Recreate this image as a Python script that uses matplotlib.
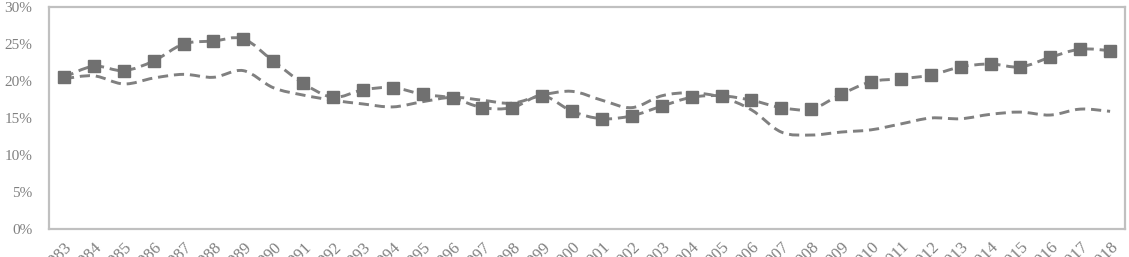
import matplotlib
matplotlib.use("Agg")
import matplotlib.pyplot as plt
from matplotlib.path import Path
from matplotlib.patches import PathPatch
from matplotlib.ticker import FuncFormatter
import numpy as np

years = [str(y) for y in range(1983, 2019)]
series_marked = [20.5, 22.0, 21.4, 22.7, 25.0, 25.4, 25.7, 22.7, 19.7, 17.8,
                 18.8, 19.1, 18.2, 17.7, 16.4, 16.4, 18.0, 15.9, 14.9, 15.3,
                 16.6, 17.8, 18.0, 17.4, 16.4, 16.2, 18.2, 19.9, 20.3, 20.8,
                 21.9, 22.3, 21.9, 23.2, 24.3, 24.1]
series_plain = [20.3, 20.7, 19.6, 20.4, 20.9, 20.5, 21.4, 19.1, 18.1, 17.4,
                16.9, 16.5, 17.2, 17.8, 17.4, 17.0, 18.1, 18.6, 17.4, 16.4,
                18.0, 18.4, 17.8, 16.1, 13.1, 12.7, 13.1, 13.4, 14.2, 15.0,
                14.9, 15.5, 15.8, 15.4, 16.2, 15.9]
y_ticks = [0, 5, 10, 15, 20, 25, 30]

plt.rcParams['font.family'] = ['Liberation Serif', 'DejaVu Serif']

fig = plt.figure(figsize=(11.29, 2.57), dpi=100)
ax = fig.add_axes([0.0434, 0.1089, 0.9531, 0.8639])

x = np.arange(len(years))


def smooth_path(xs, ys):
    pts = np.column_stack([xs, ys]).astype(float)
    verts = [pts[0]]
    codes = [Path.MOVETO]
    n = len(pts)
    for i in range(n - 1):
        p0 = pts[i - 1] if i > 0 else pts[i]
        p1 = pts[i]
        p2 = pts[i + 1]
        p3 = pts[i + 2] if i + 2 < n else pts[i + 1]
        c1 = p1 + (p2 - p0) / 6.0
        c2 = p2 - (p3 - p1) / 6.0
        verts += [c1, c2, p2]
        codes += [Path.CURVE4] * 3
    return Path(verts, codes)


line_col = '#808080'
for ys in (series_plain, series_marked):
    patch = PathPatch(smooth_path(x, ys), facecolor='none', edgecolor=line_col,
                      lw=2.1, linestyle=(0, (3.5, 2.0)), capstyle='butt')
    ax.add_patch(patch)

ax.plot(x, series_marked, linestyle='none', marker='s', markersize=9,
        markerfacecolor='#707070', markeredgecolor='#707070')

ax.set_xlim(-0.5, len(years) - 0.5)
ax.set_ylim(0, 30)
ax.set_yticks(y_ticks)
ax.yaxis.set_major_formatter(FuncFormatter(lambda v, p: f"{int(v)}%"))
ax.set_xticks(x)
ax.set_xticklabels(years, rotation=45, ha='right', rotation_mode='anchor')
ax.tick_params(axis='both', length=0, colors='#808080')
ax.tick_params(axis='y', pad=12, labelsize=11)
ax.tick_params(axis='x', pad=7, labelsize=12)
for s in ax.spines.values():
    s.set_color('#c0c0c0')
    s.set_linewidth(1.6)

fig.savefig('out.png', dpi=100)
